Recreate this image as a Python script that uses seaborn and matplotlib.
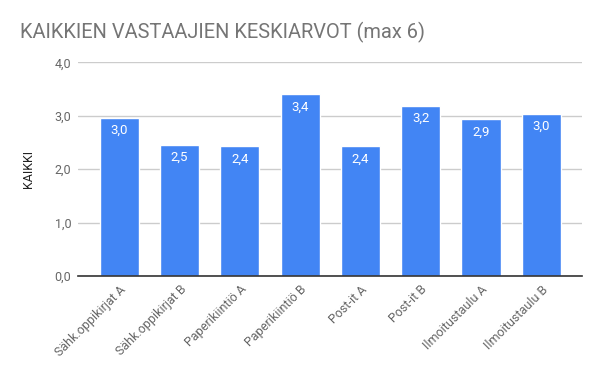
import pandas as pd
import matplotlib
matplotlib.use("Agg")
import matplotlib.pyplot as plt
import seaborn as sns

kategoriat = ["Sähk.oppikirjat A", "Sähk.oppikirjat B", "Paperikiintiö A", "Paperikiintiö B",
              "Post-it A", "Post-it B", "Ilmoitustaulu A", "Ilmoitustaulu B"]
keskiarvot = [2.96, 2.46, 2.43, 3.40, 2.43, 3.19, 2.94, 3.04]
y_ticks = [0, 1, 2, 3, 4]

df = pd.DataFrame({"Kategoria": kategoriat, "KAIKKI": keskiarvot})

sns.set_style("white")
plt.rcParams['font.family'] = ['Roboto', 'DejaVu Sans']

fig = plt.figure(figsize=(6, 3.71), dpi=100)
ax = fig.add_axes([0.1305, 0.256, 0.839, 0.576])

sns.barplot(data=df, x="Kategoria", y="KAIKKI", color="#4285f4", saturation=1,
            width=0.65, ax=ax)

for i, v in enumerate(keskiarvot):
    ax.text(i, v - 0.24, f"{v:.1f}".replace(".", ","), ha="center", va="center",
            color="white", fontsize=9.5)

ax.set_ylim(0, 4)
ax.set_xlim(-0.68, 7.67)
ax.set_yticks(y_ticks)
ax.set_yticklabels([f"{t:.1f}".replace(".", ",") for t in y_ticks], color="#666666", fontsize=9)
ax.yaxis.grid(True, color="#cccccc", linewidth=1)
ax.set_axisbelow(True)
for s in ["top", "right", "left"]:
    ax.spines[s].set_visible(False)
ax.spines["bottom"].set_color("#333333")
ax.spines["bottom"].set_linewidth(1.2)
ax.tick_params(axis="both", length=0, pad=5)
ax.set_xticks(range(len(kategoriat)))
ax.set_xticklabels(kategoriat, rotation=45, ha="right", rotation_mode="anchor",
                   color="#666666", fontsize=9)
ax.set_xlabel("")
ax.set_ylabel("KAIKKI", color="#222222", fontsize=9, labelpad=14)

fig.text(0.034, 0.898, "KAIKKIEN VASTAAJIEN KESKIARVOT (max 6)", color="#757575",
         fontsize=14.4, ha="left", va="baseline")

fig.savefig("out.png", dpi=100)
